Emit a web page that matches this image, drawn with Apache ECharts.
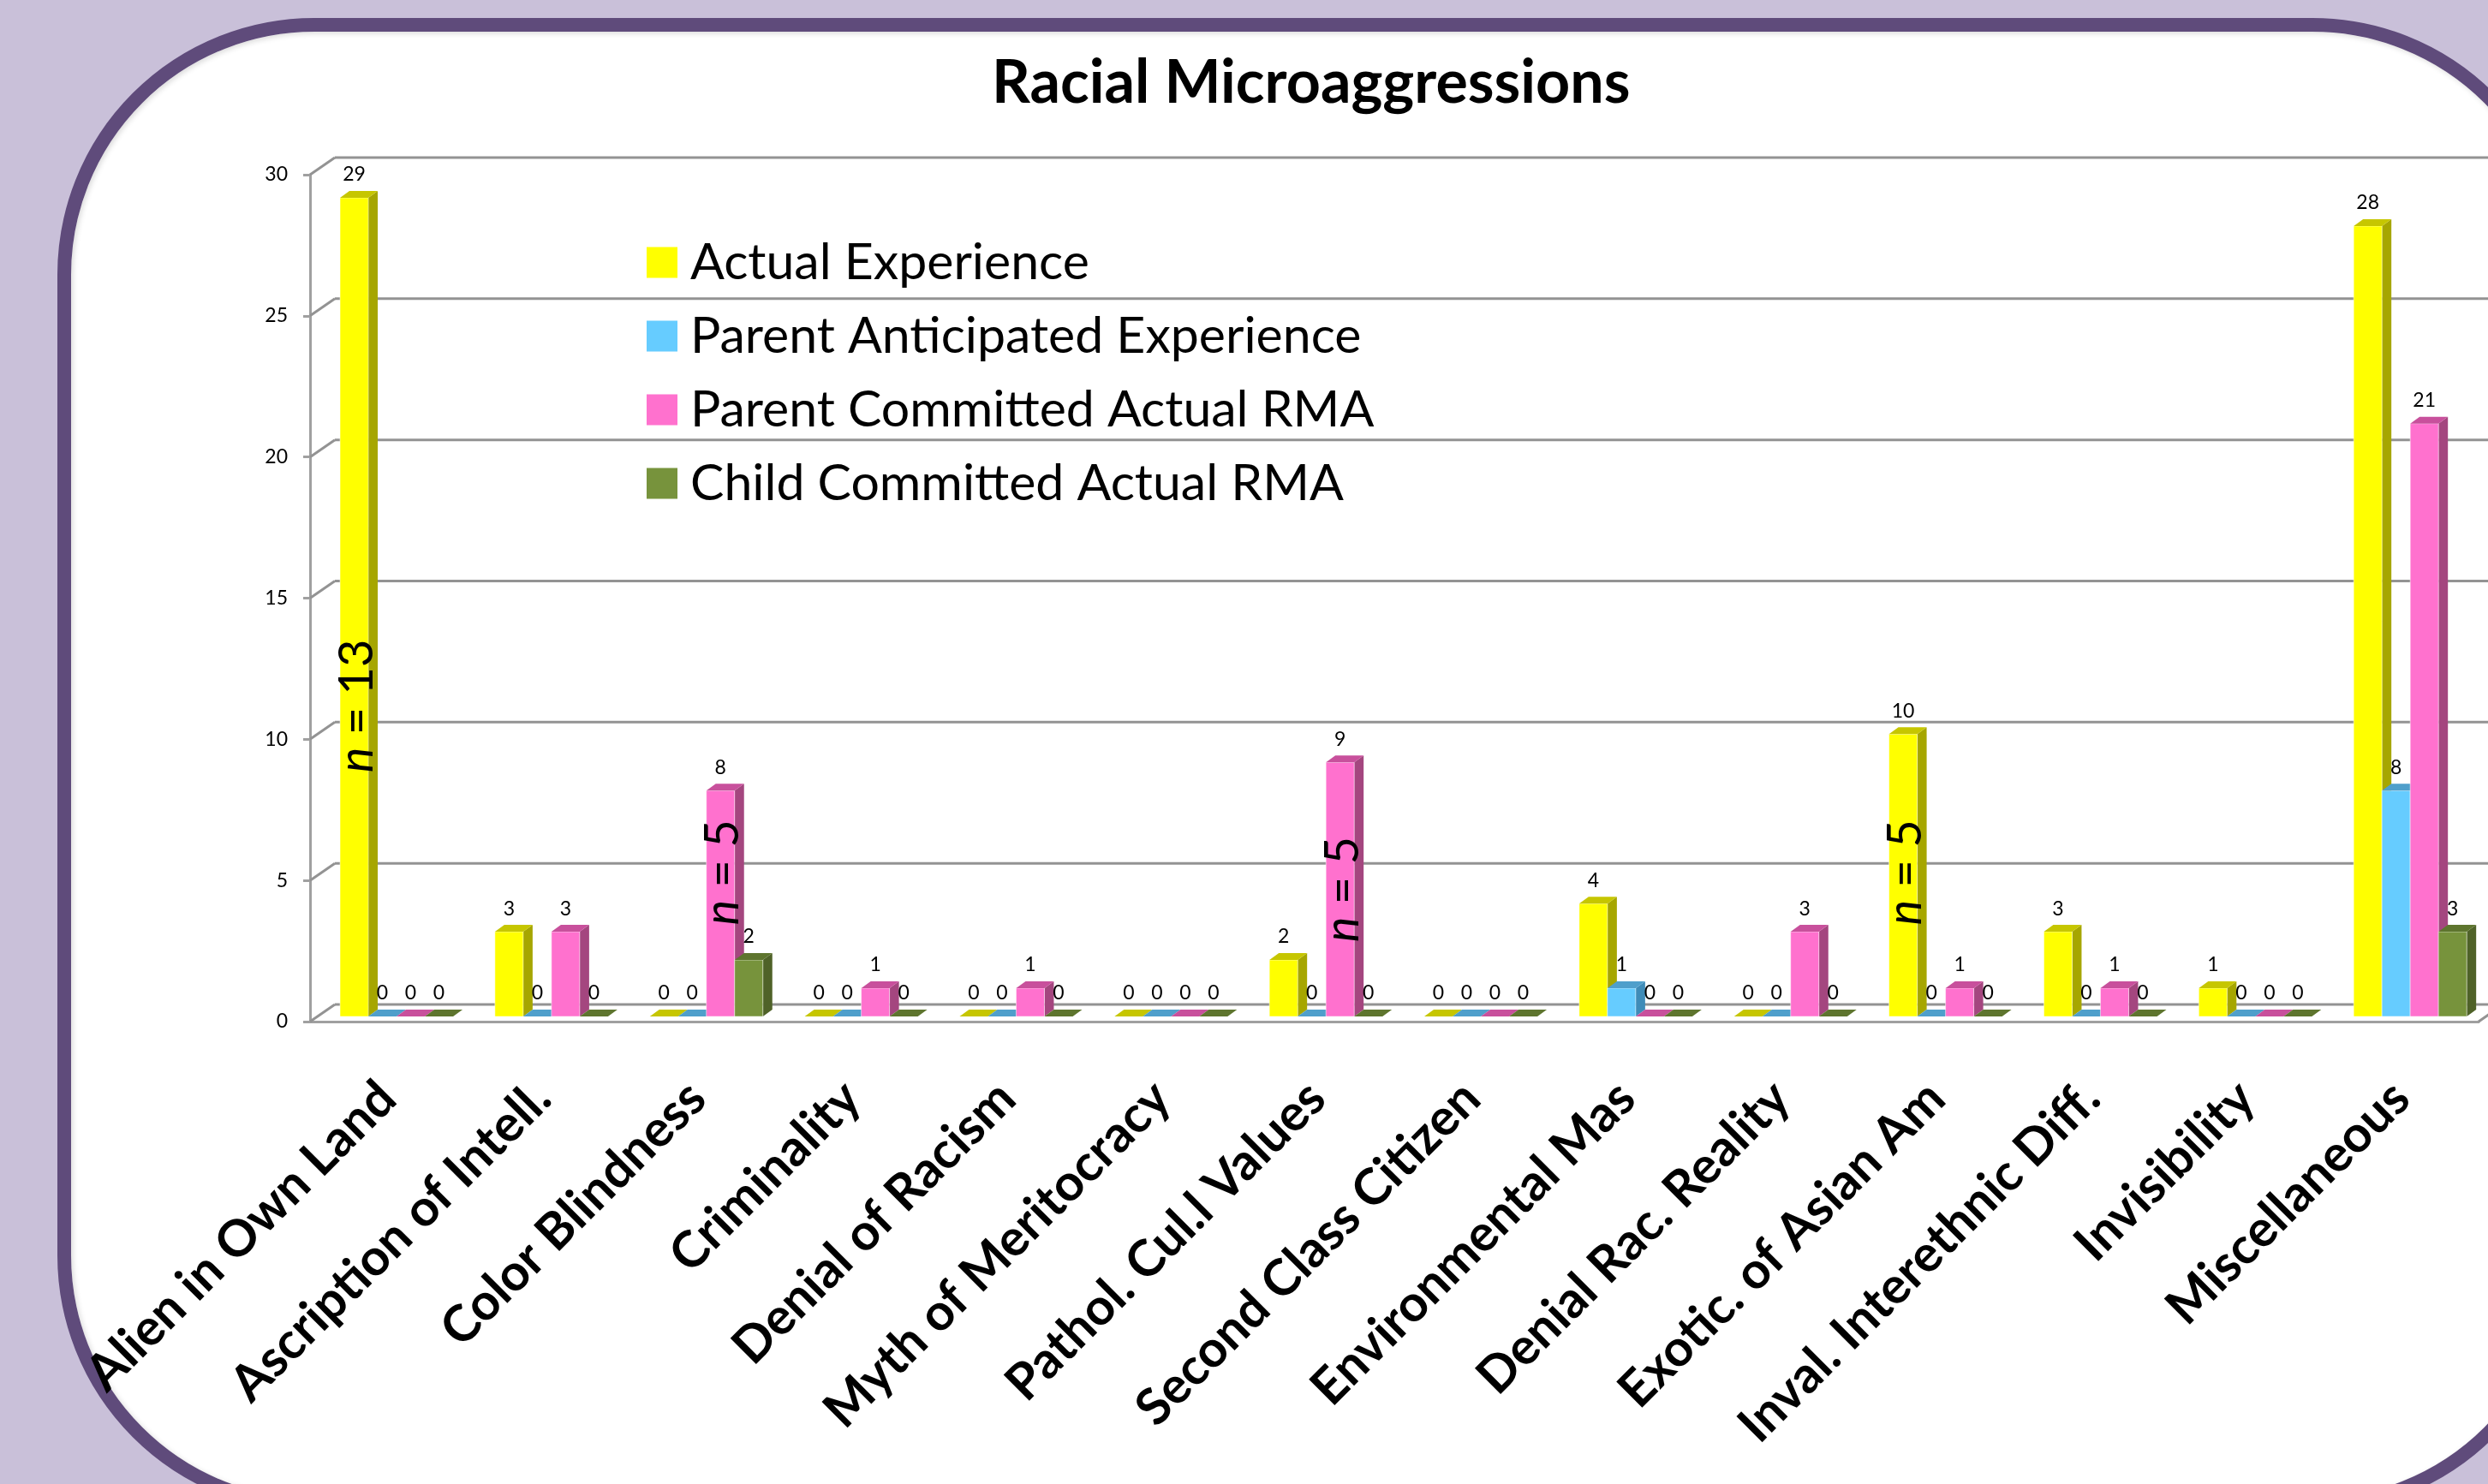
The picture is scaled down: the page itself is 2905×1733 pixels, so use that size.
<!DOCTYPE html>
<html><head><meta charset="utf-8">
<script src="https://cdn.jsdelivr.net/npm/echarts@6/dist/echarts.min.js"></script>
<style>
html,body{margin:0;padding:0;width:2905px;height:1733px;overflow:hidden;background:#C9C0D9;}
#frame{position:absolute;left:67px;top:21px;width:2933px;height:1745px;box-sizing:border-box;border:16px solid #5F4B7B;border-radius:300px;background:#fff;box-shadow:inset 2px 2px 6px rgba(0,0,0,0.15);}
#chart{position:absolute;left:0;top:0;width:2905px;height:1733px;}
</style></head><body>
<div id="frame"></div><div id="chart"></div>
<script>
// ---- data ----
const categories = ['Alien in Own Land','Ascription of Intell.','Color Blindness','Criminality','Denial of Racism','Myth of Meritocracy','Pathol. Cul.l Values','Second Class Citizen','Environmental Mas','Denial Rac. Reality','Exotic. of Asian Am','Inval. Interethnic Diff.','Invisibility','Miscellaneous'];
const seriesNames = ['Actual Experience','Parent Anticipated Experience','Parent Committed Actual RMA','Child Committed Actual RMA'];
const actualExperience   = [29,3,0,0,0,0,2,0,4,0,10,3,1,28];
const parentAnticipated  = [0,0,0,0,0,0,0,0,1,0,0,0,0,8];
const parentCommitted    = [0,3,8,1,1,0,9,0,0,3,1,1,0,21];
const childCommitted     = [0,0,2,0,0,0,0,0,0,0,0,0,0,3];
const yTicks = [0,5,10,15,20,25,30];
const annCategories = [0,2,6,10];
const annBars = [0,2,2,0];
const annValues = [11,5.1,4.5,5.1];
const annN = ['13','5','5','5'];

// ---- styles ----
const FRONT = ['#FFFF00','#66CCFF','#FF71CE','#77933C'];
const SIDE  = ['#A6A600','#3F8CB8','#A4467F','#4F6228'];
const TOP   = ['#C6C600','#4F9FCB','#C8509C','#5E752E'];
const BAR_FRAC = 0.1825, SHIFT_X = 10.6, SHIFT_Y = -6, DX = 11, DY = -8;
const WALL_DX = 29, WALL_DY = -20;
const GRID_COLOR = '#939393';
const allValues = [actualExperience, parentAnticipated, parentCommitted, childCommitted];

function barRenderer(si){
  return function(params, api){
    const c = api.value(0), v = api.value(1);
    const base = api.coord([c, 0]);
    const topP = api.coord([c, v]);
    const w = api.size([1,0])[0] * BAR_FRAC;
    const x = base[0] + SHIFT_X - 2*w + si*w;
    const yb = base[1] + SHIFT_Y;
    const yt = topP[1] + SHIFT_Y;
    const ch = [];
    if (v > 0) {
      ch.push({type:'polygon', shape:{points:[[x+w,yb],[x+w+DX,yb+DY],[x+w+DX,yt+DY],[x+w,yt]]}, style:{fill:SIDE[si]}});
      ch.push({type:'rect', shape:{x:x, y:yt, width:w, height:yb-yt}, style:{fill:FRONT[si], stroke:'rgba(255,255,255,0.5)', lineWidth:1}});
      ch.push({type:'polygon', shape:{points:[[x,yt],[x+w,yt],[x+w+DX,yt+DY],[x+DX,yt+DY]]}, style:{fill:TOP[si]}});
    } else {
      ch.push({type:'polygon', shape:{points:[[x,yb],[x+w,yb],[x+w+DX,yb+DY],[x+DX,yb+DY]]}, style:{fill:TOP[si]}});
    }
    ch.push({type:'text', x:x+w/2, y:yt-27, style:{text:String(v), fontSize:23, fontFamily:'Lato', fill:'#000', align:'center', verticalAlign:'middle'}});
    return {type:'group', children:ch};
  };
}

function wallRenderer(params, api){
  const v = api.value(1);
  const cs = params.coordSys;
  const left = cs.x, right = cs.x + cs.width;
  const y = api.coord([0, v])[1];
  const st = {stroke:GRID_COLOR, lineWidth:3};
  const ch = [
    {type:'line', shape:{x1:left, y1:y, x2:left+WALL_DX, y2:y+WALL_DY}, style:st},
    {type:'line', shape:{x1:left+WALL_DX, y1:y+WALL_DY, x2:right+WALL_DX, y2:y+WALL_DY}, style:st}
  ];
  if (v === 0) {
    ch.push({type:'line', shape:{x1:right, y1:y, x2:right+WALL_DX, y2:y+WALL_DY}, style:st});
  }
  return {type:'group', children:ch};
}

function annRenderer(params, api){
  const c = api.value(0), v = api.value(1), b = api.value(2), i = api.value(3);
  const p = api.coord([c, v]);
  const w = api.size([1,0])[0] * BAR_FRAC;
  const x = p[0] + SHIFT_X - 2*w + b*w + w/2 + 3;
  return {type:'text', x:x, y:p[1]+SHIFT_Y, rotation:Math.PI/2,
    style:{text:'{n|n} = ' + annN[i], fontSize:56, fontFamily:'Lato', fill:'#000', align:'center', verticalAlign:'middle',
      rich:{n:{fontStyle:'italic', fontSize:56, fontFamily:'Lato', fill:'#000'}}}};
}

const series = [{
  type:'custom', name:'wall', renderItem:wallRenderer, data:yTicks.map(v=>[0,v]), encode:{x:0,y:1}, silent:true, z:1
}];
seriesNames.forEach((name, si) => {
  series.push({type:'custom', name:name, renderItem:barRenderer(si), itemStyle:{color:FRONT[si]},
    data:allValues[si].map((v,i)=>[i,v]), encode:{x:0,y:1}, z:3});
});
series.push({type:'custom', name:'annotations', renderItem:annRenderer, silent:true, z:5,
  data:annCategories.map((c,i)=>[c, annValues[i], annBars[i], i]), encode:{x:0,y:1}});

const chart = echarts.init(document.getElementById('chart'), null, {renderer:'canvas'});
chart.setOption({
  animation:false,
  backgroundColor:'transparent',
  title:{text:'Racial Microaggressions', left:1158, top:62, padding:0,
    textStyle:{fontSize:70, fontWeight:'bold', fontFamily:'Lato', color:'#000'}},
  legend:{data:seriesNames, orient:'vertical', left:750, top:272, itemWidth:36, itemHeight:36, itemGap:27, icon:'rect',
    selectedMode:false,
    textStyle:{fontSize:59, fontFamily:'Lato', color:'#000', lineHeight:36, padding:[0,0,0,10]}},
  grid:{left:362, right:11, top:204, bottom:540, containLabel:false},
  xAxis:{type:'category', data:categories,
    axisLine:{lineStyle:{color:'#a0a0a0', width:3}},
    axisTick:{length:18, lineStyle:{color:'#a0a0a0', width:3}},
    axisLabel:{rotate:45, interval:0, margin:80, fontSize:59, fontWeight:'bold', fontFamily:'Lato', color:'#000'},
    splitLine:{show:false}},
  yAxis:{type:'value', min:0, max:30, interval:5,
    axisLine:{show:true, lineStyle:{color:'#a0a0a0', width:3}},
    axisTick:{show:true, length:8, lineStyle:{color:'#a0a0a0', width:3}},
    axisLabel:{fontSize:23, fontFamily:'Lato', color:'#000', margin:26},
    splitLine:{show:false}},
  series:series
});
</script>
</body></html>
